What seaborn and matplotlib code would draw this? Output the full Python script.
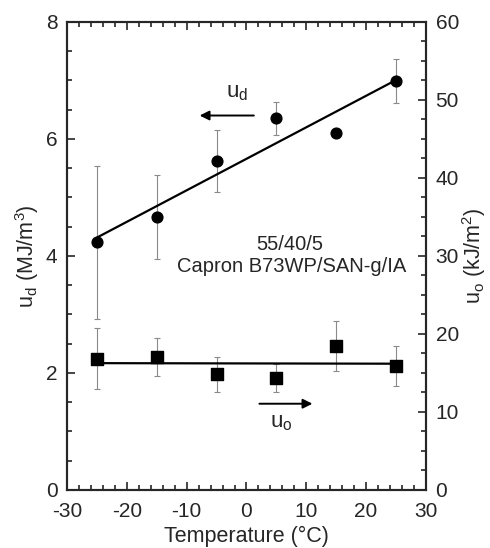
import numpy as np
import pandas as pd
import matplotlib
matplotlib.use("Agg")
import matplotlib.pyplot as plt
from matplotlib.ticker import MultipleLocator
import seaborn as sns

# data
temperature = [-25, -15, -5, 5, 15, 25]
ud = [4.23, 4.66, 5.63, 6.35, 6.10, 6.99]        # MJ/m3, left axis
ud_err = [1.30, 0.72, 0.53, 0.28, 0.0, 0.38]
uo = [16.8, 17.0, 14.8, 14.3, 18.5, 15.9]        # kJ/m2, right axis
uo_err = [3.9, 2.45, 2.2, 1.8, 3.2, 2.6]

df = pd.DataFrame({"T": temperature, "ud": ud, "ud_err": ud_err,
                   "uo": uo, "uo_err": uo_err})

sns.set_style("ticks")
plt.rcParams['font.family'] = ['Liberation Sans', 'DejaVu Sans']
plt.rcParams['mathtext.fontset'] = 'custom'
plt.rcParams['mathtext.rm'] = 'Liberation Sans'
plt.rcParams['mathtext.it'] = 'Liberation Sans'
plt.rcParams['axes.unicode_minus'] = False

fig = plt.figure(figsize=(4.9, 5.48), dpi=100)
ax = fig.add_axes([0.137, 0.106, 0.732, 0.854])
ax2 = ax.twinx()

# u_d : circles + linear fit
ax.errorbar(df["T"], df["ud"], yerr=df["ud_err"], fmt="none",
            ecolor="#8a8a8a", elinewidth=0.8, capsize=2.5, capthick=0.8)
sns.regplot(data=df, x="T", y="ud", ax=ax, ci=None, color="black", marker="o",
            scatter_kws={"s": 60, "zorder": 3, "alpha": 1},
            line_kws={"lw": 1.6})

# u_o : squares + linear fit
ax2.errorbar(df["T"], df["uo"], yerr=df["uo_err"], fmt="none",
             ecolor="#8a8a8a", elinewidth=0.8, capsize=2.5, capthick=0.8)
sns.regplot(data=df, x="T", y="uo", ax=ax2, ci=None, color="black", marker="s",
            scatter_kws={"s": 65, "zorder": 3, "alpha": 1},
            line_kws={"lw": 1.6})

ax.set_xlim(-30, 30)
ax.set_ylim(0, 8)
ax2.set_ylim(0, 60)

ax.xaxis.set_major_locator(MultipleLocator(10))
ax.xaxis.set_minor_locator(MultipleLocator(2))
ax.yaxis.set_major_locator(MultipleLocator(2))
ax.yaxis.set_minor_locator(MultipleLocator(0.5))
ax2.yaxis.set_major_locator(MultipleLocator(10))
ax2.yaxis.set_minor_locator(MultipleLocator(2.5))

ax.tick_params(axis="both", which="both", direction="in", top=True,
               labelsize=15, width=1.2)
ax.tick_params(axis="x", which="major", pad=9)
ax.tick_params(axis="y", which="major", pad=7)
ax.tick_params(which="major", length=6)
ax.tick_params(which="minor", length=3.5)
ax2.tick_params(axis="y", which="both", direction="in", labelsize=15, width=1.2)
ax2.tick_params(which="major", length=6, pad=7)
ax2.tick_params(which="minor", length=3.5)

for a in (ax, ax2):
    for s in a.spines.values():
        s.set_visible(True)
        s.set_linewidth(1.5)

ax.set_xlabel("Temperature (°C)", fontsize=15.5, labelpad=3)
ax.set_ylabel("u$_d$ (MJ/m$^3$)", fontsize=15.5, labelpad=3)
ax2.set_ylabel("u$_o$ (kJ/m$^2$)", fontsize=15.5, labelpad=1)

ax.text(7.3, 4.2, "55/40/5", fontsize=14.5, ha="center", va="center")
ax.text(7.5, 3.82, "Capron B73WP/SAN-g/IA", fontsize=14.5, ha="center", va="center")

# arrows pointing to the respective axes
ax.annotate("", xy=(-8.3, 6.4), xytext=(1.7, 6.4),
            arrowprops=dict(arrowstyle="-|>", color="black", lw=1.4,
                            mutation_scale=14))
ax.text(-1.5, 6.8, "u$_d$", fontsize=16, ha="center", va="center")
ax2.annotate("", xy=(11.5, 11.05), xytext=(1.7, 11.05),
             arrowprops=dict(arrowstyle="-|>", color="black", lw=1.4,
                             mutation_scale=14))
ax2.text(5.8, 8.7, "u$_o$", fontsize=16, ha="center", va="center")

fig.savefig("out.png", dpi=100)
